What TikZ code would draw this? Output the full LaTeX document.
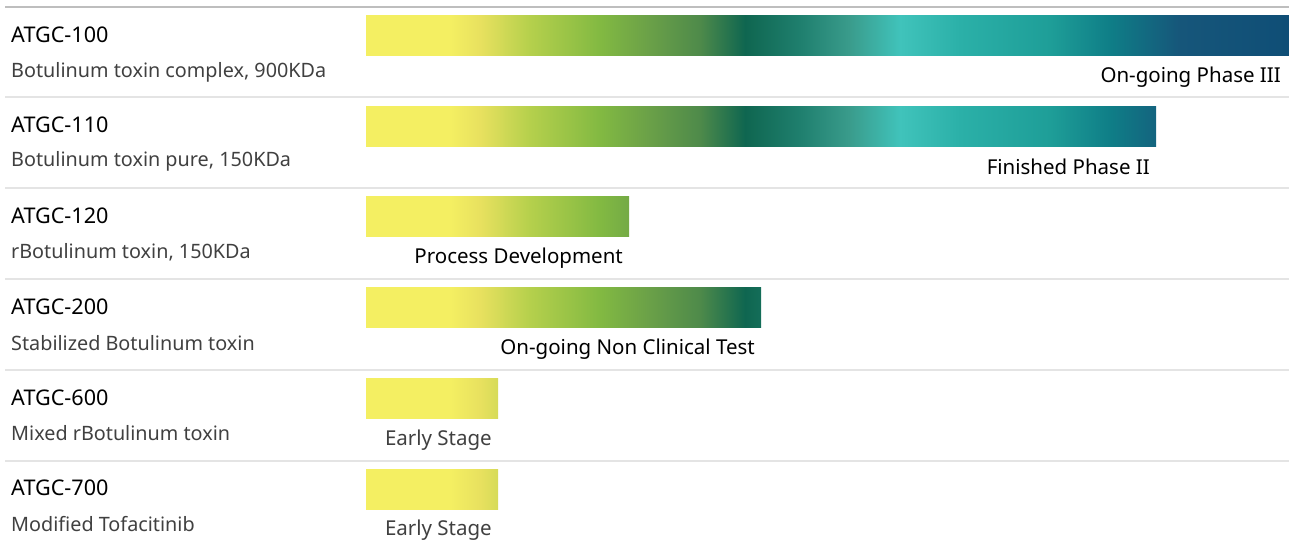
\documentclass[tikz,border=0pt]{standalone}
\usepackage{fontspec}
\setmainfont{Noto Sans}

\definecolor{sepdark}{HTML}{BEBEBE}
\definecolor{seplight}{HTML}{E4E4E4}
\definecolor{lighttext}{HTML}{404040}
% colours of the pipeline bar, left to right
\definecolor{pa}{HTML}{F4EF62}
\definecolor{pb}{HTML}{E8E15F}
\definecolor{pc}{HTML}{B5D04C}
\definecolor{pd}{HTML}{82B942}
\definecolor{pe}{HTML}{6AA048}
\definecolor{pf}{HTML}{4E8A4A}
\definecolor{pg}{HTML}{0F6650}
\definecolor{ph}{HTML}{1F7F6E}
\definecolor{pi}{HTML}{3A9C8C}
\definecolor{pj}{HTML}{40C3BB}
\definecolor{pk}{HTML}{2BB0A8}
\definecolor{pl}{HTML}{1E9E98}
\definecolor{pm}{HTML}{0F7E87}
\definecolor{pn}{HTML}{16567A}
\definecolor{po}{HTML}{0F4E76}

\pgfdeclarehorizontalshading{pipeline}{100bp}{color(0bp)=(pa); color(25bp)=(pa);
  color(29.55bp)=(pa); color(31.18bp)=(pb); color(33.88bp)=(pc); color(37.68bp)=(pd);
  color(40.38bp)=(pe); color(43.09bp)=(pf); color(45.53bp)=(pg); color(48.51bp)=(ph);
  color(51.22bp)=(pi); color(53.93bp)=(pj); color(57.18bp)=(pk); color(62.05bp)=(pl);
  color(65.30bp)=(pm); color(69.09bp)=(pn); color(75bp)=(po); color(100bp)=(po)}

% one bar: top edge, right end
\newcommand{\pipebar}[2]{%
  \begin{scope}
    \clip (366,#1) rectangle (#2,#1+40);
    \shade[shading=pipeline] (366,#1) rectangle (1289,#1+40);
  \end{scope}}

\begin{document}
\begin{tikzpicture}[x=1pt, y=-1pt,
    code/.style={anchor=west, inner sep=0pt, font=\fontsize{21.6}{21.6}\selectfont, text=black},
    info/.style={anchor=west, inner sep=0pt, font=\fontsize{19.8}{19.8}\selectfont, text=lighttext},
    phase/.style={anchor=east, inner sep=0pt, font=\fontsize{20.5}{20.5}\selectfont, text=black},
    early/.style={anchor=east, inner sep=0pt, font=\fontsize{20.5}{20.5}\selectfont, text=lighttext}]
    \useasboundingbox (0,0) rectangle (1289,546);

    % row rules
    \draw[sepdark, line width=1.6pt] (5,7) -- (1289,7);
    \draw[seplight, line width=1.6pt] (5,97) -- (1289,97);
    \draw[seplight, line width=1.6pt] (5,188) -- (1289,188);
    \draw[seplight, line width=1.6pt] (5,279) -- (1289,279);
    \draw[seplight, line width=1.6pt] (5,370) -- (1289,370);
    \draw[seplight, line width=1.6pt] (5,461) -- (1289,461);

    % ATGC-100
    \node[code] (c100) at (11,35) {ATGC-100};
    \node[info] (i100) at (11,72) {Botulinum toxin complex, 900KDa};
    \pipebar{15}{1289}
    \node[phase] (p100) at (1281,77) {On-going Phase III};

    % ATGC-110
    \node[code] (c110) at (11,125) {ATGC-110};
    \node[info] (i110) at (11,161) {Botulinum toxin pure, 150KDa};
    \pipebar{106}{1156}
    \node[phase] (p110) at (1150,167) {Finished Phase II};

    % ATGC-120
    \node[code] (c120) at (11,216) {ATGC-120};
    \node[info] (i120) at (11,252) {rBotulinum toxin, 150KDa};
    \pipebar{196}{629}
    \node[phase] (p120) at (623,258) {Process Development};

    % ATGC-200
    \node[code] (c200) at (11,307) {ATGC-200};
    \node[info] (i200) at (11,343) {Stabilized Botulinum toxin};
    \pipebar{287}{761}
    \node[phase] (p200) at (755,349) {On-going Non Clinical Test};

    % ATGC-600
    \node[code] (c600) at (11,398) {ATGC-600};
    \node[info] (i600) at (11,433) {Mixed rBotulinum toxin};
    \pipebar{378}{498}
    \node[early] (p600) at (492,440) {Early Stage};

    % ATGC-700
    \node[code] (c700) at (11,488) {ATGC-700};
    \node[info] (i700) at (11,524) {Modified Tofacitinib};
    \pipebar{469}{498}
    \node[early] (p700) at (492,530) {Early Stage};
\end{tikzpicture}
\end{document}
